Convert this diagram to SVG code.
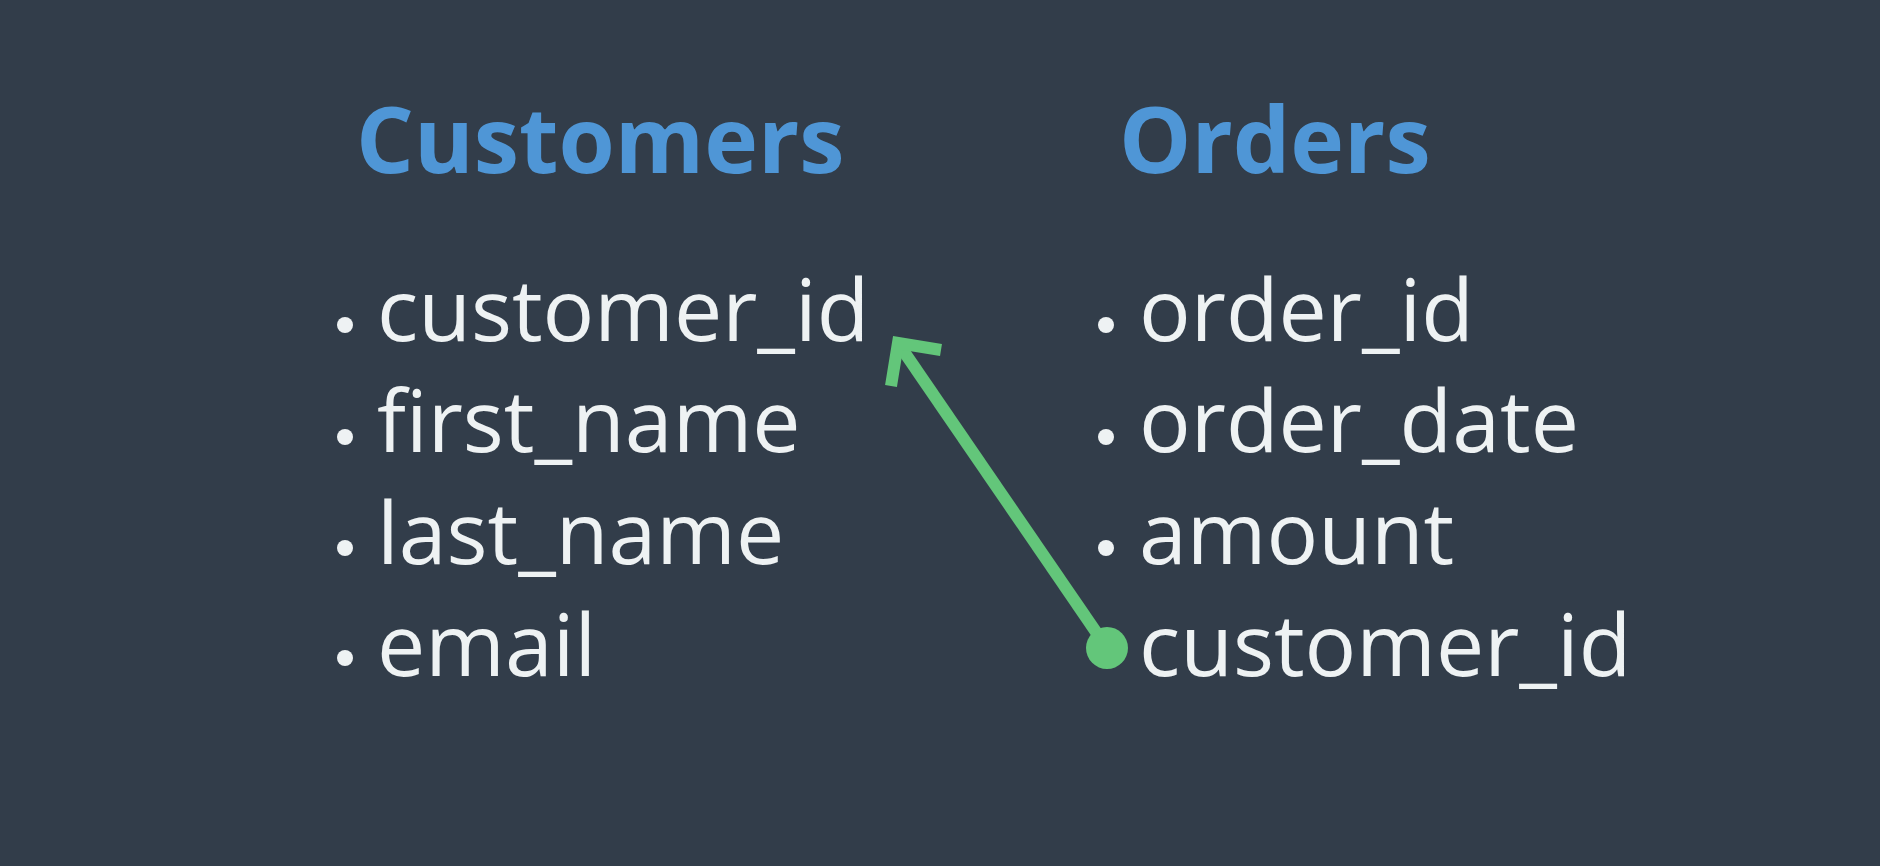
<svg xmlns="http://www.w3.org/2000/svg" width="1880" height="866" viewBox="0 0 1880 866">
<style>
.h{font-family:"Open Sans","Liberation Sans",sans-serif;font-weight:700;font-size:91px;fill:#4f96d6}
.t{font-family:"Open Sans","Liberation Sans",sans-serif;font-size:86px;fill:#eef2f3}
.b{fill:#eef2f3}
.c{stroke:#63c67a;stroke-width:12;fill:none}
</style>
<rect width="1880" height="866" fill="#323d4a"/>
<g id="customers">
<text class="h" x="356" y="173">Customers</text>
<circle class="b" cx="345" cy="325" r="8"/><text class="t" x="377" y="341">customer_id</text>
<circle class="b" cx="345" cy="437" r="8"/><text class="t" x="377" y="452">first_name</text>
<circle class="b" cx="345" cy="548" r="8"/><text class="t" x="377" y="564">last_name</text>
<circle class="b" cx="345" cy="658" r="8"/><text class="t" x="377" y="676">email</text>
</g>
<g id="orders">
<text class="h" x="1119" y="173">Orders</text>
<circle class="b" cx="1106" cy="325" r="8"/><text class="t" x="1139" y="341">order_id</text>
<circle class="b" cx="1106" cy="437" r="8"/><text class="t" x="1139" y="452">order_date</text>
<circle class="b" cx="1106" cy="548" r="8"/><text class="t" x="1139" y="564">amount</text>
<text class="t" x="1139" y="676">customer_id</text>
</g>
<g id="connectors">
<line class="c" x1="1107" y1="648" x2="898" y2="343"/>
<path class="c" d="M891 386 L898 343 L941 350" stroke-linejoin="miter"/>
<circle cx="1107" cy="648" r="21" fill="#63c67a"/>
</g>
</svg>
